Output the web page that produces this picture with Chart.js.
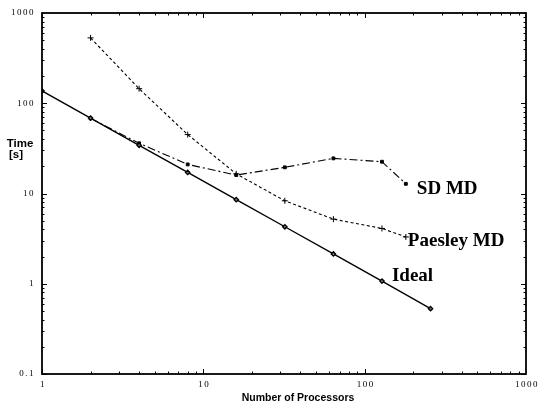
<!DOCTYPE html>
<html>
<head>
<meta charset="utf-8">
<script src="https://cdn.jsdelivr.net/npm/chart.js@4/dist/chart.umd.min.js"></script>
<style>
  html, body { margin: 0; padding: 0; background: #fff; }
  #wrap { width: 538px; height: 404px; }
</style>
</head>
<body>
<div id="wrap"><canvas id="chart"></canvas></div>
<script>
// data
const idealProcs = [1, 2, 4, 8, 16, 32, 64, 128, 256];
const idealTime = [137, 68.5, 34.2, 17.1, 8.55, 4.28, 2.14, 1.07, 0.53];
const paesleyProcs = [2, 4, 8, 16, 32, 64, 128, 180];
const paesleyTime = [530, 145, 45, 16.5, 8.3, 5.2, 4.1, 3.3];
const sdProcs = [2, 4, 8, 16, 32, 64, 128, 180];
const sdTime = [68, 36, 21, 16, 19.5, 24.5, 22.5, 12.8];
const xTicks = [1, 10, 100, 1000];
const yTicks = [0.1, 1, 10, 100, 1000];
const xTickLabels = ['1', '10', '100', '1000'];
const yTickLabels = ['0.1', '1', '10', '100', '1000'];
const seriesNames = ['Ideal', 'Paesley MD', 'SD MD'];

const toPoints = (xs, ys) => xs.map((v, i) => ({ x: v, y: ys[i] }));

// frame, inward ticks, tick labels, axis titles and series labels
const decorations = {
  id: 'decorations',
  afterDraw(chart) {
    const { ctx, chartArea: a, scales: { x, y } } = chart;
    ctx.save();
    ctx.strokeStyle = '#000';
    ctx.fillStyle = '#000';

    // minor ticks on all four sides
    ctx.lineWidth = 1;
    ctx.beginPath();
    for (let d = 0; d < xTicks.length - 1; d++) {
      for (let m = 1; m < 10; m++) {
        const px = Math.round(x.getPixelForValue(xTicks[d] * m)) + 0.5;
        const len = m === 1 ? 5 : 2.5;
        ctx.moveTo(px, a.bottom); ctx.lineTo(px, a.bottom - len);
        ctx.moveTo(px, a.top); ctx.lineTo(px, a.top + len);
      }
    }
    for (let d = 0; d < yTicks.length - 1; d++) {
      for (let m = 1; m < 10; m++) {
        const py = Math.round(y.getPixelForValue(yTicks[d] * m)) + 0.5;
        const len = m === 1 ? 5 : 2.5;
        ctx.moveTo(a.left, py); ctx.lineTo(a.left + len, py);
        ctx.moveTo(a.right, py); ctx.lineTo(a.right - len, py);
      }
    }
    ctx.stroke();

    ctx.lineWidth = 1.8;
    ctx.strokeRect(a.left, a.top, a.right - a.left, a.bottom - a.top);

    // tick labels
    ctx.font = '9px "Liberation Serif"';
    ctx.letterSpacing = '1.5px';
    ctx.textBaseline = 'middle';
    ctx.textAlign = 'right';
    yTicks.forEach((v, i) => {
      ctx.fillText(yTickLabels[i], a.left - 7, y.getPixelForValue(v));
    });
    ctx.textAlign = 'center';
    xTicks.forEach((v, i) => {
      ctx.fillText(xTickLabels[i], x.getPixelForValue(v) + 1, a.bottom + 11);
    });
    ctx.letterSpacing = '0px';

    // axis titles
    ctx.font = 'bold 11.5px "Liberation Sans"';
    ctx.textBaseline = 'alphabetic';
    ctx.fillText('Time', 20, 147);
    ctx.fillText('[s]', 16, 158);
    ctx.font = 'bold 10.5px "Liberation Sans"';
    ctx.fillText('Number of Processors', 298, 401);

    // series labels next to the curves
    ctx.font = 'bold 19px "Liberation Serif"';
    ctx.textAlign = 'left';
    const lastOf = (i) => {
      const meta = chart.getDatasetMeta(i);
      return meta.data[meta.data.length - 1];
    };
    const ideal128 = chart.getDatasetMeta(0).data[7];
    ctx.fillText(seriesNames[0], ideal128.x + 10, ideal128.y);
    const p = lastOf(1);
    ctx.fillText(seriesNames[1], p.x + 2, p.y + 9);
    const s = lastOf(2);
    ctx.fillText(seriesNames[2], s.x + 11, s.y + 10);
    ctx.restore();
  }
};

const fixedAxis = (size, key) => (scale) => { scale[key] = size; };

new Chart(document.getElementById('chart'), {
  type: 'line',
  data: {
    datasets: [
      {
        label: seriesNames[0],
        data: toPoints(idealProcs, idealTime),
        borderColor: '#000',
        borderWidth: 1.4,
        pointStyle: 'rectRot',
        pointRadius: 2.2,
        pointBackgroundColor: '#777',
        pointBorderColor: '#000',
        pointBorderWidth: 1.3
      },
      {
        label: seriesNames[1],
        data: toPoints(paesleyProcs, paesleyTime),
        borderColor: '#000',
        borderWidth: 1.1,
        borderDash: [3, 2.5],
        pointStyle: 'cross',
        pointRadius: 3,
        pointBorderColor: '#000',
        pointBorderWidth: 1
      },
      {
        label: seriesNames[2],
        data: toPoints(sdProcs, sdTime),
        borderColor: '#000',
        borderWidth: 1.1,
        borderDash: [8, 3, 2, 3],
        pointStyle: 'rect',
        pointRadius: 2,
        pointBackgroundColor: '#000',
        pointBorderColor: '#000',
        pointBorderWidth: 1
      }
    ]
  },
  options: {
    responsive: true,
    maintainAspectRatio: false,
    animation: false,
    layout: { padding: { top: 13, right: 12, left: 0, bottom: 0 } },
    plugins: { legend: { display: false }, tooltip: { enabled: false } },
    scales: {
      x: {
        type: 'logarithmic',
        min: 1,
        max: 1000,
        grid: { display: false },
        border: { display: false },
        ticks: { display: false },
        afterFit: fixedAxis(30, 'height')
      },
      y: {
        type: 'logarithmic',
        min: 0.1,
        max: 1000,
        grid: { display: false },
        border: { display: false },
        ticks: { display: false },
        afterFit: fixedAxis(42, 'width')
      }
    }
  },
  plugins: [decorations]
});
</script>
</body>
</html>
